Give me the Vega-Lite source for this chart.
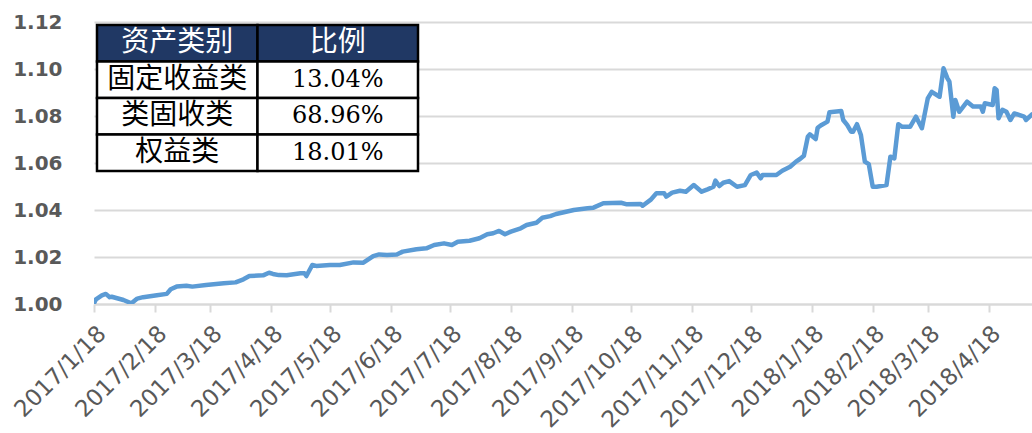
{
  "$schema": "https://vega.github.io/schema/vega-lite/v6.json",
  "width": 938,
  "height": 282,
  "autosize": {"type": "none"},
  "padding": {"left": 94, "top": 22, "right": 0, "bottom": 129},
  "background": "white",
  "config": {"view": {"stroke": null}},
  "datasets": {
    "nav": [
      {"date": "2017-01-18", "value": 1.0003},
      {"date": "2017-01-19", "value": 1.0020},
      {"date": "2017-01-22", "value": 1.0037},
      {"date": "2017-01-24", "value": 1.0043},
      {"date": "2017-01-26", "value": 1.0029},
      {"date": "2017-01-27", "value": 1.0031},
      {"date": "2017-02-02", "value": 1.0017},
      {"date": "2017-02-06", "value": 1.0003},
      {"date": "2017-02-09", "value": 1.0023},
      {"date": "2017-02-12", "value": 1.0029},
      {"date": "2017-02-19", "value": 1.0037},
      {"date": "2017-02-24", "value": 1.0043},
      {"date": "2017-02-26", "value": 1.0063},
      {"date": "2017-03-01", "value": 1.0074},
      {"date": "2017-03-06", "value": 1.0078},
      {"date": "2017-03-09", "value": 1.0074},
      {"date": "2017-03-16", "value": 1.0081},
      {"date": "2017-03-25", "value": 1.0088},
      {"date": "2017-03-31", "value": 1.0092},
      {"date": "2017-04-04", "value": 1.0105},
      {"date": "2017-04-07", "value": 1.0119},
      {"date": "2017-04-14", "value": 1.0122},
      {"date": "2017-04-17", "value": 1.0133},
      {"date": "2017-04-19", "value": 1.0128},
      {"date": "2017-04-22", "value": 1.0123},
      {"date": "2017-04-26", "value": 1.0122},
      {"date": "2017-05-03", "value": 1.0131},
      {"date": "2017-05-05", "value": 1.0131},
      {"date": "2017-05-06", "value": 1.0119},
      {"date": "2017-05-09", "value": 1.0166},
      {"date": "2017-05-11", "value": 1.0162},
      {"date": "2017-05-18", "value": 1.0166},
      {"date": "2017-05-23", "value": 1.0166},
      {"date": "2017-05-30", "value": 1.0177},
      {"date": "2017-06-04", "value": 1.0176},
      {"date": "2017-06-09", "value": 1.0204},
      {"date": "2017-06-12", "value": 1.0211},
      {"date": "2017-06-16", "value": 1.0209},
      {"date": "2017-06-21", "value": 1.0211},
      {"date": "2017-06-24", "value": 1.0223},
      {"date": "2017-07-01", "value": 1.0233},
      {"date": "2017-07-06", "value": 1.0237},
      {"date": "2017-07-10", "value": 1.0251},
      {"date": "2017-07-15", "value": 1.0258},
      {"date": "2017-07-19", "value": 1.0251},
      {"date": "2017-07-22", "value": 1.0265},
      {"date": "2017-07-28", "value": 1.0269},
      {"date": "2017-08-02", "value": 1.0280},
      {"date": "2017-08-06", "value": 1.0297},
      {"date": "2017-08-09", "value": 1.0301},
      {"date": "2017-08-12", "value": 1.0311},
      {"date": "2017-08-15", "value": 1.0297},
      {"date": "2017-08-18", "value": 1.0308},
      {"date": "2017-08-23", "value": 1.0322},
      {"date": "2017-08-26", "value": 1.0336},
      {"date": "2017-08-31", "value": 1.0346},
      {"date": "2017-09-03", "value": 1.0367},
      {"date": "2017-09-07", "value": 1.0374},
      {"date": "2017-09-10", "value": 1.0383},
      {"date": "2017-09-19", "value": 1.0400},
      {"date": "2017-09-26", "value": 1.0407},
      {"date": "2017-09-29", "value": 1.0410},
      {"date": "2017-10-04", "value": 1.0429},
      {"date": "2017-10-13", "value": 1.0431},
      {"date": "2017-10-16", "value": 1.0424},
      {"date": "2017-10-23", "value": 1.0426},
      {"date": "2017-10-24", "value": 1.0418},
      {"date": "2017-10-28", "value": 1.0443},
      {"date": "2017-10-31", "value": 1.0471},
      {"date": "2017-11-04", "value": 1.0471},
      {"date": "2017-11-05", "value": 1.0457},
      {"date": "2017-11-08", "value": 1.0474},
      {"date": "2017-11-12", "value": 1.0482},
      {"date": "2017-11-15", "value": 1.0478},
      {"date": "2017-11-19", "value": 1.0506},
      {"date": "2017-11-23", "value": 1.0478},
      {"date": "2017-11-26", "value": 1.0488},
      {"date": "2017-11-29", "value": 1.0499},
      {"date": "2017-11-30", "value": 1.0525},
      {"date": "2017-12-02", "value": 1.0502},
      {"date": "2017-12-04", "value": 1.0516},
      {"date": "2017-12-07", "value": 1.0523},
      {"date": "2017-12-11", "value": 1.0499},
      {"date": "2017-12-15", "value": 1.0506},
      {"date": "2017-12-18", "value": 1.0549},
      {"date": "2017-12-21", "value": 1.0559},
      {"date": "2017-12-23", "value": 1.0535},
      {"date": "2017-12-24", "value": 1.0549},
      {"date": "2017-12-31", "value": 1.0549},
      {"date": "2018-01-03", "value": 1.0567},
      {"date": "2018-01-07", "value": 1.0584},
      {"date": "2018-01-10", "value": 1.0606},
      {"date": "2018-01-12", "value": 1.0617},
      {"date": "2018-01-14", "value": 1.0631},
      {"date": "2018-01-16", "value": 1.0712},
      {"date": "2018-01-17", "value": 1.0722},
      {"date": "2018-01-20", "value": 1.0702},
      {"date": "2018-01-21", "value": 1.0750},
      {"date": "2018-01-23", "value": 1.0762},
      {"date": "2018-01-26", "value": 1.0776},
      {"date": "2018-01-27", "value": 1.0816},
      {"date": "2018-02-02", "value": 1.0821},
      {"date": "2018-02-03", "value": 1.0783},
      {"date": "2018-02-05", "value": 1.0762},
      {"date": "2018-02-07", "value": 1.0733},
      {"date": "2018-02-08", "value": 1.0733},
      {"date": "2018-02-10", "value": 1.0765},
      {"date": "2018-02-12", "value": 1.0719},
      {"date": "2018-02-14", "value": 1.0606},
      {"date": "2018-02-16", "value": 1.0595},
      {"date": "2018-02-18", "value": 1.0499},
      {"date": "2018-02-20", "value": 1.0499},
      {"date": "2018-02-25", "value": 1.0506},
      {"date": "2018-02-27", "value": 1.0627},
      {"date": "2018-03-01", "value": 1.0620},
      {"date": "2018-03-03", "value": 1.0765},
      {"date": "2018-03-05", "value": 1.0754},
      {"date": "2018-03-09", "value": 1.0754},
      {"date": "2018-03-12", "value": 1.0797},
      {"date": "2018-03-15", "value": 1.0748},
      {"date": "2018-03-18", "value": 1.0875},
      {"date": "2018-03-20", "value": 1.0903},
      {"date": "2018-03-24", "value": 1.0882},
      {"date": "2018-03-26", "value": 1.1003},
      {"date": "2018-03-28", "value": 1.0960},
      {"date": "2018-03-29", "value": 1.0946},
      {"date": "2018-03-31", "value": 1.0797},
      {"date": "2018-04-01", "value": 1.0868},
      {"date": "2018-04-03", "value": 1.0818},
      {"date": "2018-04-07", "value": 1.0861},
      {"date": "2018-04-10", "value": 1.0840},
      {"date": "2018-04-14", "value": 1.0840},
      {"date": "2018-04-15", "value": 1.0818},
      {"date": "2018-04-16", "value": 1.0854},
      {"date": "2018-04-20", "value": 1.0847},
      {"date": "2018-04-21", "value": 1.0918},
      {"date": "2018-04-22", "value": 1.0911},
      {"date": "2018-04-23", "value": 1.0790},
      {"date": "2018-04-25", "value": 1.0826},
      {"date": "2018-04-27", "value": 1.0818},
      {"date": "2018-04-29", "value": 1.0783},
      {"date": "2018-05-01", "value": 1.0811},
      {"date": "2018-05-06", "value": 1.0797},
      {"date": "2018-05-07", "value": 1.0783},
      {"date": "2018-05-10", "value": 1.0807}
    ],
    "table": [
      {"row": "资产类别", "col": "类别", "text": "资产类别"},
      {"row": "资产类别", "col": "比例", "text": "比例"},
      {"row": "固定收益类", "col": "类别", "text": "固定收益类"},
      {"row": "固定收益类", "col": "比例", "text": "13.04%"},
      {"row": "类固收类", "col": "类别", "text": "类固收类"},
      {"row": "类固收类", "col": "比例", "text": "68.96%"},
      {"row": "权益类", "col": "类别", "text": "权益类"},
      {"row": "权益类", "col": "比例", "text": "18.01%"}
    ]
  },
  "resolve": {"scale": {"x": "independent", "y": "independent"}},
  "layer": [
    {
      "data": {"name": "nav"},
      "mark": {"type": "line", "color": "#5B9BD5", "strokeWidth": 4.5, "strokeJoin": "round", "strokeCap": "round", "clip": true},
      "encoding": {
        "x": {
          "field": "date",
          "type": "temporal",
          "scale": {
            "type": "utc",
            "domain": [
              {"year": 2017, "month": 1, "date": 18, "utc": true},
              {"year": 2018, "month": 5, "date": 10, "utc": true}
            ]
          },
          "axis": {
            "title": null,
            "values": [
              {"year": 2017, "month": 1, "date": 18, "utc": true},
              {"year": 2017, "month": 2, "date": 18, "utc": true},
              {"year": 2017, "month": 3, "date": 18, "utc": true},
              {"year": 2017, "month": 4, "date": 18, "utc": true},
              {"year": 2017, "month": 5, "date": 18, "utc": true},
              {"year": 2017, "month": 6, "date": 18, "utc": true},
              {"year": 2017, "month": 7, "date": 18, "utc": true},
              {"year": 2017, "month": 8, "date": 18, "utc": true},
              {"year": 2017, "month": 9, "date": 18, "utc": true},
              {"year": 2017, "month": 10, "date": 18, "utc": true},
              {"year": 2017, "month": 11, "date": 18, "utc": true},
              {"year": 2017, "month": 12, "date": 18, "utc": true},
              {"year": 2018, "month": 1, "date": 18, "utc": true},
              {"year": 2018, "month": 2, "date": 18, "utc": true},
              {"year": 2018, "month": 3, "date": 18, "utc": true},
              {"year": 2018, "month": 4, "date": 18, "utc": true}
            ],
            "format": "%Y/%-m/%-d",
            "labelAngle": -45,
            "labelFont": "DejaVu Sans",
            "labelFontSize": 23,
            "labelColor": "#595959",
            "labelPadding": 10,
            "labelOverlap": false,
            "labelFlush": false,
            "labelBound": false,
            "domainColor": "#D9D9D9",
            "domainWidth": 2,
            "tickColor": "#D9D9D9",
            "tickWidth": 2,
            "tickSize": 8,
            "grid": false
          }
        },
        "y": {
          "field": "value",
          "type": "quantitative",
          "scale": {"domain": [1.0, 1.12], "nice": false, "zero": false},
          "axis": {
            "title": null,
            "values": [1.0, 1.02, 1.04, 1.06, 1.08, 1.1, 1.12],
            "format": ".2f",
            "labelFont": "DejaVu Sans",
            "labelFontWeight": "bold",
            "labelFontSize": 20,
            "labelColor": "#595959",
            "labelPadding": 32,
            "labelFlush": false,
            "domain": false,
            "ticks": false,
            "grid": true,
            "gridColor": "#D9D9D9",
            "gridWidth": 2
          }
        }
      }
    },
    {
      "data": {"name": "table"},
      "encoding": {
        "x": {
          "field": "col",
          "type": "nominal",
          "scale": {"type": "band", "domain": ["类别", "比例", " ", "  "], "paddingInner": 0, "paddingOuter": 0.922, "align": 0.0101},
          "axis": null
        },
        "y": {
          "field": "row",
          "type": "nominal",
          "scale": {"type": "band", "domain": ["资产类别", "固定收益类", "类固收类", "权益类", " ", "  "], "paddingInner": 0, "paddingOuter": 0.863, "align": 0.048},
          "axis": null
        }
      },
      "layer": [
        {
          "mark": {"type": "rect", "stroke": "black", "strokeWidth": 2.5},
          "encoding": {
            "fill": {"condition": {"test": "datum.row === '资产类别'", "value": "#203864"}, "value": "white"}
          }
        },
        {
          "transform": [{"filter": "datum.row === '资产类别'"}],
          "mark": {"type": "text", "font": "Noto Sans CJK SC", "fontSize": 28, "color": "white"},
          "encoding": {"text": {"field": "text"}}
        },
        {
          "transform": [{"filter": "datum.row !== '资产类别' && datum.col === '类别'"}],
          "mark": {"type": "text", "font": "Noto Sans CJK SC", "fontSize": 28, "color": "black"},
          "encoding": {"text": {"field": "text"}}
        },
        {
          "transform": [{"filter": "datum.row !== '资产类别' && datum.col === '比例'"}],
          "mark": {"type": "text", "font": "DejaVu Serif", "fontSize": 24, "color": "black"},
          "encoding": {"text": {"field": "text"}}
        }
      ]
    }
  ]
}
